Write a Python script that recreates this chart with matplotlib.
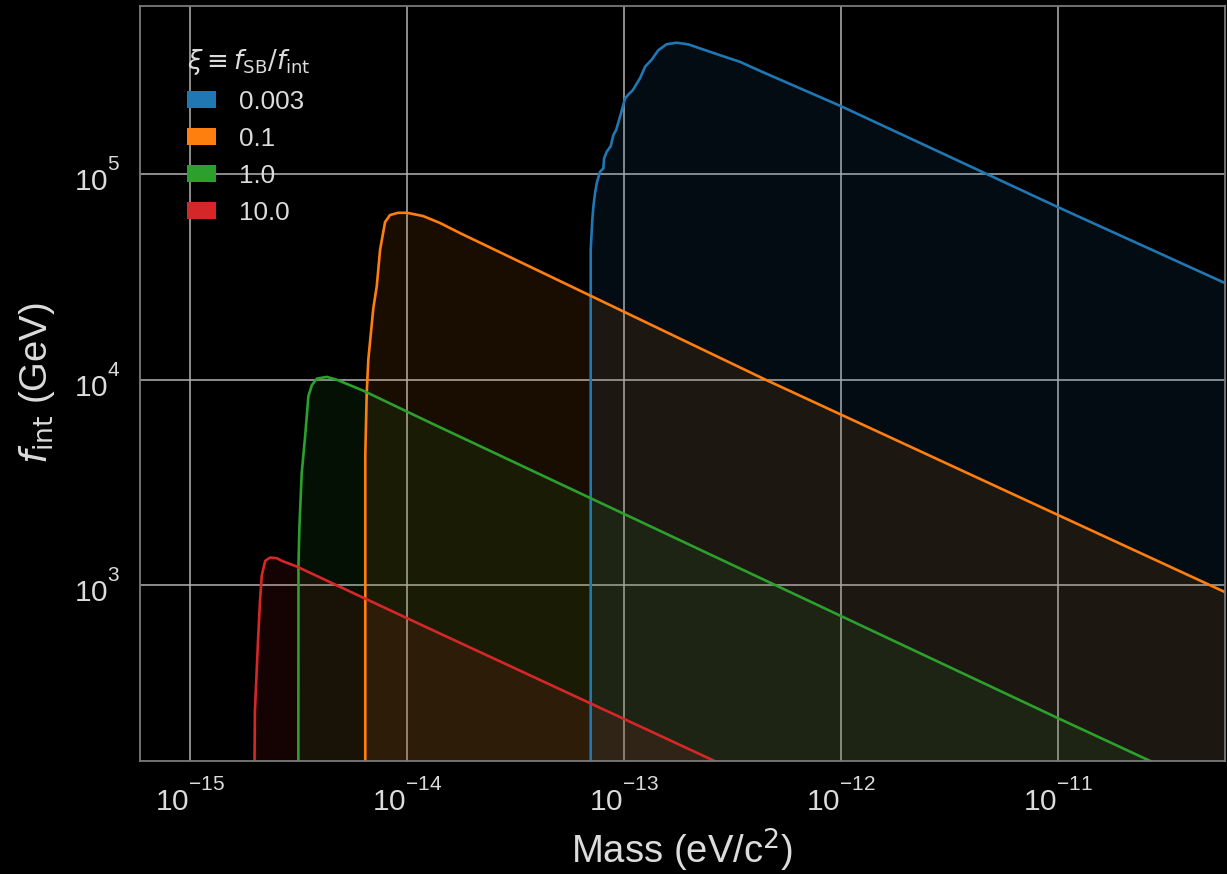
import matplotlib
matplotlib.use("Agg")
import matplotlib.pyplot as plt
import matplotlib._mathtext as mathtext_internals
from matplotlib.patches import Patch

# coupling ratio xi = f_SB / f_int for each curve
xi_labels = ["0.003", "0.1", "1.0", "10.0"]
colors = ["#1f77b4", "#ff7f0e", "#2ca02c", "#d62728"]

# mass (eV/c^2) and f_int (GeV)
mass_blue = [7.02e-14, 7.02e-14, 7.14e-14, 7.22e-14, 7.35e-14, 7.48e-14, 7.75e-14, 8.03e-14,
             8.09e-14, 8.32e-14, 8.68e-14, 8.93e-14, 9.19e-14, 9.58e-14, 1.011e-13, 1.047e-13,
             1.097e-13, 1.185e-13, 1.25e-13, 1.342e-13, 1.439e-13, 1.573e-13, 1.749e-13,
             1.978e-13, 2.32e-13, 2.77e-13, 3.42e-13, 4.23e-13, 1e-12, 1e-11, 6.0e-11, 1e-10]
fint_blue = [1e2, 4.27e4, 5.97e4, 6.93e4, 8.06e4, 9.01e4, 1.026e5, 1.066e5,
             1.192e5, 1.284e5, 1.368e5, 1.549e5, 1.637e5, 1.901e5, 2.333e5, 2.44e5,
             2.56e5, 2.93e5, 3.33e5, 3.61e5, 4.01e5, 4.29e5, 4.36e5,
             4.28e5, 4.04e5, 3.79e5, 3.52e5, 3.18e5, 2.14e5, 6.9e4, 2.92e4, 2.27e4]

mass_orange = [6.42e-15, 6.42e-15, 6.52e-15, 6.63e-15, 6.99e-15, 7.25e-15, 7.51e-15, 7.65e-15,
               7.92e-15, 8.35e-15, 9.09e-15, 1.0e-14, 1.185e-14, 1.419e-14, 1.755e-14,
               4.47e-13, 1e-11, 6.0e-11, 1e-10]
fint_orange = [1e2, 4.3e3, 8.64e3, 1.25e4, 2.22e4, 2.84e4, 4.27e4, 4.77e4,
               5.84e4, 6.32e4, 6.48e4, 6.48e4, 6.25e4, 5.78e4, 5.16e4,
               1.0e4, 2.19e3, 914, 713]

mass_green = [3.155e-15, 3.16e-15, 3.19e-15, 3.27e-15, 3.39e-15, 3.51e-15, 3.64e-15, 3.84e-15,
              4.27e-15, 4.74e-15, 6.29e-15, 1.276e-14, 1e-11, 1e-10]
fint_green = [1e2, 1.25e3, 1.89e3, 3.5e3, 5.27e3, 8.29e3, 9.38e3, 1.01e4,
              1.03e4, 9.98e3, 8.82e3, 6.17e3, 224.6, 72.6]

mass_red = [1.978e-15, 1.99e-15, 2.06e-15, 2.10e-15, 2.14e-15, 2.22e-15, 2.34e-15, 2.51e-15,
            2.65e-15, 3.10e-15, 6.29e-15, 1.276e-14, 1e-12]
fint_red = [1e2, 242, 552, 832, 1.11e3, 1.31e3, 1.36e3, 1.35e3,
            1.31e3, 1.23e3, 866, 611, 72]

masses = [mass_blue, mass_orange, mass_green, mass_red]
fints = [fint_blue, fint_orange, fint_green, fint_red]

plt.rcParams['font.family'] = ['Liberation Sans', 'DejaVu Sans']
plt.rcParams['mathtext.fontset'] = 'dejavusans'


# tick exponents sit higher in the original, only for the plain (non-math) font
class RaisedSupConstants(mathtext_internals.FontConstantsBase):
    sup1 = 1.25


mathtext_internals._font_constant_mapping['Liberation Sans'] = RaisedSupConstants

text_col = "#dcdcdc"
fig = plt.figure(figsize=(12.27, 8.74), dpi=100, facecolor="black")
ax = fig.add_axes([140 / 1227, 113 / 874, 1085 / 1227, 755 / 874])
ax.set_facecolor("black")

for m, f, c in zip(masses, fints, colors):
    ax.fill_between(m, f, 1e-3, color=c, alpha=0.1, linewidth=0)
    ax.plot(m, f, color=c, linewidth=1.9)

ax.set_xscale("log")
ax.set_yscale("log")
ax.set_xlim(5.88e-16, 5.88e-11)
ax.set_ylim(139, 6.58e5)
ax.set_xticks([1e-15, 1e-14, 1e-13, 1e-12, 1e-11])
ax.set_yticks([1e3, 1e4, 1e5])
ax.minorticks_off()

ax.grid(True, color="#b4b4b4", linewidth=1.1)
ax.set_axisbelow(True)
for s in ax.spines.values():
    s.set_color("#7a7a7a")
    s.set_linewidth(1.3)
ax.tick_params(length=0, labelsize=21.5, colors=text_col)
ax.tick_params(axis="x", pad=12)
ax.tick_params(axis="y", pad=14)

ax.set_xlabel("Mass (eV/c$^2$)", fontsize=27.5, color=text_col, labelpad=8)
ax.set_ylabel(r"$f_{\rm int}$ (GeV)", fontsize=27.5, color=text_col, labelpad=12)

handles = [Patch(facecolor=c, edgecolor="none") for c in colors]
leg = ax.legend(handles, xi_labels, title=r"$\xi \equiv f_{\rm SB}/f_{\rm int}$",
                loc="upper left", bbox_to_anchor=(187 / 1227, 1 - 47 / 874),
                bbox_transform=fig.transFigure, frameon=False, fontsize=18.7,
                title_fontsize=18.7, handlelength=1.12, handleheight=0.63,
                handletextpad=0.9, labelspacing=0.5, borderpad=0, borderaxespad=0,
                alignment="left")
for t in leg.get_texts():
    t.set_color(text_col)
leg.get_title().set_color(text_col)

fig.savefig("out.png", dpi=100, facecolor="black")
